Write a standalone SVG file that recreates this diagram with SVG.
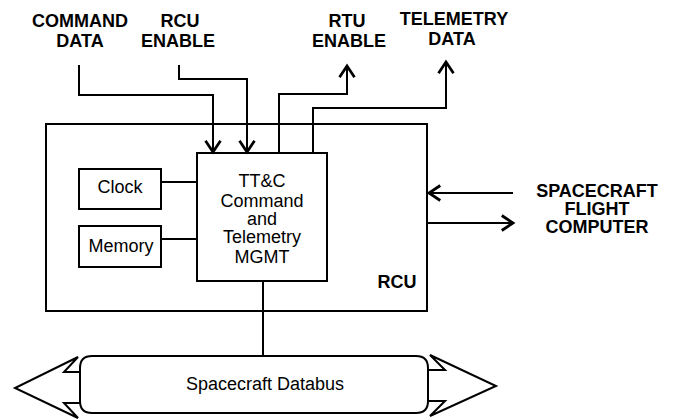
<svg xmlns="http://www.w3.org/2000/svg" width="673" height="419" viewBox="0 0 673 419">
<style>
.box{fill:none;stroke:#000;stroke-width:2}
.ln{fill:none;stroke:#000;stroke-width:2}
.lb{font-family:"Liberation Sans",Arial,sans-serif;font-size:18px;font-weight:bold;text-anchor:middle;fill:#000}
.tx{font-family:"Liberation Sans",Arial,sans-serif;font-size:18px;text-anchor:middle;fill:#000}
</style>
<defs>
<marker id="ah" markerUnits="userSpaceOnUse" markerWidth="20" markerHeight="20" refX="0" refY="0" viewBox="-12 -8 14 16" orient="auto">
<path d="M-9,-6 L0,0 L-9,6" fill="none" stroke="#000" stroke-width="2.2"/>
</marker>
</defs>
<rect width="673" height="419" fill="#fff"/>

<g id="rcu">
<rect class="box" x="46" y="124" width="381" height="187"/>
<text class="lb" x="397" y="288">RCU</text>
</g>

<g id="ttc">
<rect class="box" x="197" y="153" width="130" height="128"/>
<text class="tx" x="262" y="187">TT&amp;C</text>
<text class="tx" x="262" y="207">Command</text>
<text class="tx" x="262" y="225">and</text>
<text class="tx" x="262" y="243">Telemetry</text>
<text class="tx" x="262" y="263">MGMT</text>
</g>

<g id="clock">
<rect class="box" x="79" y="169" width="82" height="40"/>
<text class="tx" x="120" y="193">Clock</text>
</g>

<g id="memory">
<rect class="box" x="79" y="226" width="82" height="41"/>
<text class="tx" x="121" y="252">Memory</text>
</g>

<g id="databus">
<path class="ln" d="M92,356 H416 Q428,356 428,368 V401 Q428,413 416,413 H92 Q80,413 80,401 V368 Q80,356 92,356 Z"/>
<path class="ln" d="M80,372 H64 L78,357 L15,388 L78,418 L64,403 H80"/>
<path class="ln" d="M428,370 H445 L430,355 L496,386 L430,416 L445,401 H428"/>
<text class="tx" x="265" y="390">Spacecraft Databus</text>
</g>

<g id="labels">
<text class="lb" x="80" y="27">COMMAND</text>
<text class="lb" x="80" y="47">DATA</text>
<text class="lb" x="180" y="27">RCU</text>
<text class="lb" x="178" y="47">ENABLE</text>
<text class="lb" x="347" y="27">RTU</text>
<text class="lb" x="349" y="47">ENABLE</text>
<text class="lb" x="454" y="25">TELEMETRY</text>
<text class="lb" x="452" y="45">DATA</text>
<text class="lb" x="597" y="197">SPACECRAFT</text>
<text class="lb" x="597" y="215">FLIGHT</text>
<text class="lb" x="597" y="233">COMPUTER</text>
</g>

<g id="connectors">
<path class="ln" d="M79,65 V95 H213 V152" marker-end="url(#ah)"/>
<path class="ln" d="M179,65 V79 H247 V152" marker-end="url(#ah)"/>
<path class="ln" d="M279,153 V94 H347 V66" marker-end="url(#ah)"/>
<path class="ln" d="M313,153 V108 H446 V62" marker-end="url(#ah)"/>
<path class="ln" d="M513,193 H429" marker-end="url(#ah)"/>
<path class="ln" d="M428,223 H513" marker-end="url(#ah)"/>
<path class="ln" d="M161,182 H197"/>
<path class="ln" d="M161,239 H197"/>
<path class="ln" d="M263,281 V356"/>
</g>
</svg>
